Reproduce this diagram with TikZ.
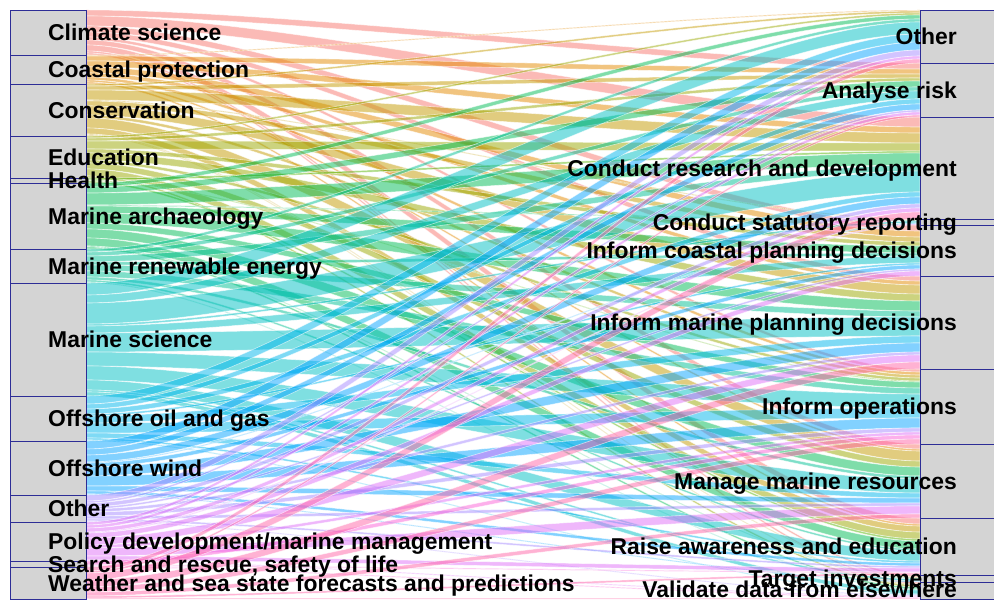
\documentclass[tikz,border=0pt]{standalone}
\usepackage{fontspec}
\setmainfont{Liberation Sans}
\usepackage{tikz}

\definecolor{flow1}{HTML}{F8766D}
\definecolor{flow2}{HTML}{E38900}
\definecolor{flow3}{HTML}{C49A00}
\definecolor{flow4}{HTML}{99A800}
\definecolor{flow5}{HTML}{53B400}
\definecolor{flow6}{HTML}{00BC56}
\definecolor{flow7}{HTML}{00C094}
\definecolor{flow8}{HTML}{00BFC4}
\definecolor{flow9}{HTML}{00B6EB}
\definecolor{flow10}{HTML}{06A4FF}
\definecolor{flow11}{HTML}{A58AFF}
\definecolor{flow12}{HTML}{DF70F8}
\definecolor{flow13}{HTML}{FB61D7}
\definecolor{flow14}{HTML}{FF66A8}
\definecolor{boxline}{RGB}{45,45,150}
\definecolor{boxfill}{RGB}{212,212,212}

% one row of flows: colour, widths towards the eleven uses
\newcommand{\flowrow}[2]{%
  \foreach \w [count=\j] in {#2} {
    \ifnum\w>0
      \edef\ya{\ly}
      \edef\yb{\csname ry\j\endcsname}
      \filldraw[flow=#1] (86,\ya) .. controls (294,\ya) and (712,\yb) .. (920,\yb)
        -- (920,\yb+\w) .. controls (712,\yb+\w) and (294,\ya+\w) .. (86,\ya+\w) -- cycle;
      \pgfmathsetmacro\tmp{\ly+\w}\xdef\ly{\tmp}
      \pgfmathsetmacro\tmp{\yb+\w}\expandafter\xdef\csname ry\j\endcsname{\tmp}
    \fi
  }%
}

\begin{document}
\begin{tikzpicture}[x=1pt, y=-1pt,
    flow/.style={fill=#1, fill opacity=0.5, draw=white, draw opacity=0.6, line width=0.6pt},
    stratum/.style={draw=boxline, fill=boxfill, line width=0.9pt},
    leftlab/.style={anchor=west, inner sep=0pt, text height=16.4pt, text depth=0pt,
      font=\bfseries\fontsize{22.9}{24}\selectfont},
    rightlab/.style={leftlab, anchor=east}]
    \useasboundingbox (0,0) rectangle (994,601);
    \clip (0,0) rectangle (994,601);

    % Running positions of the flows
    \xdef\ly{10}
    \foreach \j/\t in {1/10,2/63,3/117,4/219,5/225,6/276,7/369,8/444,9/518,10/575,11/582}
      {\expandafter\xdef\csname ry\j\endcsname{\t}}

    % Flows
    \flowrow{flow1}{0,6,10,0,6,5,3,5,6,2,2}
    \flowrow{flow2}{1,5,6,0,6,4,3,2,2,0,0}
    \flowrow{flow3}{2,4,10,1,5,9,3,10,6,1,1}
    \flowrow{flow4}{2,3,8,0,4,7,3,6,7,0,2}
    \flowrow{flow5}{0,0,2,0,0,0,1,0,2,0,0}
    \flowrow{flow6}{4,6,12,1,7,10,6,9,8,1,2}
    \flowrow{flow7}{3,4,6,0,3,6,6,3,2,0,1}
    \flowrow{flow8}{12,8,21,2,7,19,14,14,10,2,4}
    \flowrow{flow9}{8,5,5,0,2,7,10,5,2,0,1}
    \flowrow{flow10}{8,6,7,1,4,9,10,5,3,1,0}
    \flowrow{flow11}{6,2,4,0,2,3,4,3,2,0,1}
    \flowrow{flow12}{3,3,4,1,5,7,3,8,4,0,1}
    \flowrow{flow13}{0,0,0,0,0,0,4,0,1,0,1}
    \flowrow{flow14}{4,2,7,0,0,7,5,4,2,0,1}

    % Strata
    \foreach \a/\b in {10/55,55/84,84/136,136/178,178/183,183/249,249/283,283/396,
        396/441,441/495,495/522,522/561,561/567,567/599}
      \draw[stratum] (10,\a) rectangle (86,\b);
    \foreach \a/\b in {10/63,63/117,117/219,219/225,225/276,276/369,369/444,
        444/518,518/575,575/582,582/599}
      \draw[stratum] (920,\a) rectangle (1000,\b);

    % Sectors
    \node[leftlab] (climate) at (48,32.5) {Climate science};
    \node[leftlab] (coastal) at (48,69.5) {Coastal protection};
    \node[leftlab] (conserv) at (48,110) {Conservation};
    \node[leftlab] (educ) at (48,157) {Education};
    \node[leftlab] (health) at (48,180.5) {Health};
    \node[leftlab] (archaeo) at (48,216) {Marine archaeology};
    \node[leftlab] (renew) at (48,266) {Marine renewable energy};
    \node[leftlab] (marsci) at (48,339.5) {Marine science};
    \node[leftlab] (oilgas) at (48,418.5) {Offshore oil and gas};
    \node[leftlab] (wind) at (48,468) {Offshore wind};
    \node[leftlab] (othersec) at (48,508.5) {Other};
    \node[leftlab] (policy) at (48,541.5) {Policy development/marine management};
    \node[leftlab] (rescue) at (48,564) {Search and rescue, safety of life};
    \node[leftlab] (weather) at (48,583) {Weather and sea state forecasts and predictions};

    % Uses
    \node[rightlab] (otheruse) at (957,36.5) {Other};
    \node[rightlab] (risk) at (957,90) {Analyse risk};
    \node[rightlab] (research) at (957,168) {Conduct research and development};
    \node[rightlab] (statutory) at (957,222) {Conduct statutory reporting};
    \node[rightlab] (coastplan) at (957,250.5) {Inform coastal planning decisions};
    \node[rightlab] (marplan) at (957,322.5) {Inform marine planning decisions};
    \node[rightlab] (ops) at (957,406.5) {Inform operations};
    \node[rightlab] (manage) at (957,481) {Manage marine resources};
    \node[rightlab] (raise) at (957,546.5) {Raise awareness and education};
    \node[rightlab] (target) at (957,578.5) {Target investments};
    \node[rightlab] (validate) at (957,589) {Validate data from elsewhere};
\end{tikzpicture}
\end{document}
